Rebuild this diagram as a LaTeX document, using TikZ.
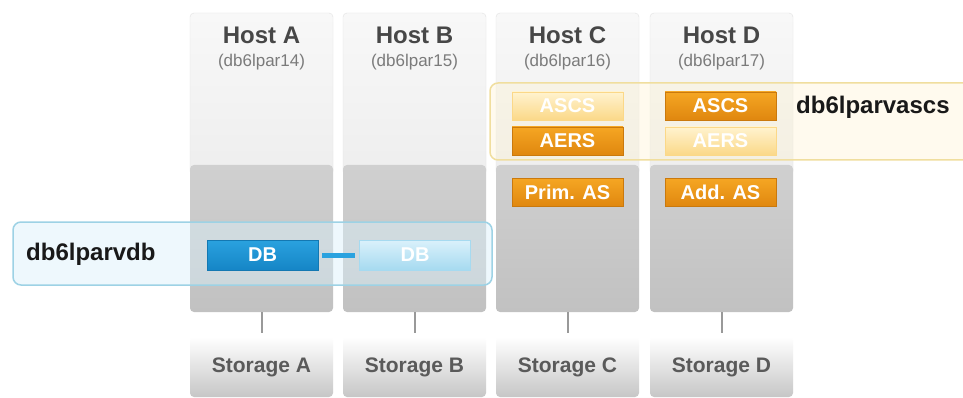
\documentclass[tikz,border=0pt]{standalone}
\usepackage{fontspec}
\setmainfont{Liberation Sans}
\usetikzlibrary{positioning}
\definecolor{paneltop}{HTML}{F8F8F8}
\definecolor{panelbot}{HTML}{EEEEEE}
\definecolor{panelline}{HTML}{E3E3E3}
\definecolor{graytop}{HTML}{D0D0D0}
\definecolor{graybot}{HTML}{C1C1C1}
\definecolor{storbot}{HTML}{C6C6C6}
\definecolor{sapor}{HTML}{F5A623}
\definecolor{sapordk}{HTML}{E0870F}
\definecolor{fadeor}{HTML}{FFF3CF}
\definecolor{fadeordk}{HTML}{FBD888}
\definecolor{dbblue}{HTML}{2AA2DF}
\definecolor{dbbluedk}{HTML}{1585C6}
\definecolor{dbfade}{HTML}{DAF1FB}
\definecolor{dbfadedk}{HTML}{A6DAF0}
\definecolor{vdbline}{HTML}{9DD2E5}
\definecolor{ascsline}{HTML}{F0DE9E}
\definecolor{hosttext}{HTML}{474747}
\definecolor{subtext}{HTML}{7B7B7B}
\tikzstyle{hosttop} = [draw=panelline, rounded corners=4pt, top color=paneltop, bottom color=panelbot, minimum width=143pt, minimum height=162pt, inner sep=0pt]
\tikzstyle{hostbot} = [rounded corners=4pt, top color=graytop, bottom color=graybot, minimum width=143pt, minimum height=147pt, inner sep=0pt]
\tikzstyle{storagebox} = [rounded corners=4pt, top color=white, bottom color=storbot, minimum width=143pt, minimum height=60pt, inner sep=0pt, text=hosttext!90, font=\fontsize{21}{24}\selectfont\bfseries]
\tikzstyle{title} = [text=hosttext, font=\fontsize{24}{28}\selectfont\bfseries]
\tikzstyle{subtitle} = [text=subtext, font=\fontsize{17}{20}\selectfont]
\tikzstyle{orbox} = [draw=sapordk!90!black, top color=sapor, bottom color=sapordk, text=white, minimum width=111pt, minimum height=28pt, inner sep=0pt, font=\fontsize{20}{24}\selectfont\bfseries]
\tikzstyle{orfaded} = [orbox, draw=fadeordk, top color=fadeor, bottom color=fadeordk]
\tikzstyle{dbbox} = [draw=dbbluedk!90!black, top color=dbblue, bottom color=dbbluedk, text=white, minimum width=111pt, minimum height=30pt, inner sep=0pt, font=\fontsize{20}{24}\selectfont\bfseries]
\tikzstyle{dbfaded} = [dbbox, draw=dbfadedk, top color=dbfade, bottom color=dbfadedk]
\tikzstyle{grouplabel} = [text=black!90, font=\fontsize{24}{28}\selectfont\bfseries, inner sep=0pt]

\begin{document}
\begin{tikzpicture}[x=1pt,y=-1pt]
\useasboundingbox[fill=white] (0,0) rectangle (963,398);
% host panels
\node[hosttop] (pA) at (261.5,94) {};
\node[hosttop] (pB) at (414.5,94) {};
\node[hosttop] (pC) at (567.5,94) {};
\node[hosttop] (pD) at (721.5,94) {};
\node[hostbot] (gA) at (261.5,238.5) {};
\node[hostbot] (gB) at (414.5,238.5) {};
\node[hostbot] (gC) at (567.5,238.5) {};
\node[hostbot] (gD) at (721.5,238.5) {};
\node[title] (tA) at (261.5,35) {Host A};
\node[title] (tB) at (414.5,35) {Host B};
\node[title] (tC) at (567.5,35) {Host C};
\node[title] (tD) at (721.5,35) {Host D};
\node[subtitle] (nA) at (261.5,62) {(db6lpar14)};
\node[subtitle] (nB) at (414.5,62) {(db6lpar15)};
\node[subtitle] (nC) at (567.5,62) {(db6lpar16)};
\node[subtitle] (nD) at (721.5,62) {(db6lpar17)};
% storage
\node[storagebox] (sA) at (261.5,367) {Storage A};
\node[storagebox] (sB) at (414.5,367) {Storage B};
\node[storagebox] (sC) at (567.5,367) {Storage C};
\node[storagebox] (sD) at (721.5,367) {Storage D};
\draw[line width=2pt, black!40] (gA.south) -- ([yshift=4pt]sA.north);
\draw[line width=2pt, black!40] (gB.south) -- ([yshift=4pt]sB.north);
\draw[line width=2pt, black!40] (gC.south) -- ([yshift=4pt]sC.north);
\draw[line width=2pt, black!40] (gD.south) -- ([yshift=4pt]sD.north);
% virtual hosts
\node[draw=vdbline, line width=1.5pt, rounded corners=8pt, fill=dbfade, fill opacity=0.45, minimum width=479pt, minimum height=63pt] (vdb) at (252.5,253.5) {};
\node[grouplabel, anchor=west] (vdblabel) at (26,254) {db6lparvdb};
\begin{scope}
\clip (0,0) rectangle (963,398);
\node[draw=ascsline, line width=1.5pt, rounded corners=8pt, fill=fadeor, fill opacity=0.35, minimum width=490pt, minimum height=77pt] (vascs) at (735,121.5) {};
\end{scope}
\node[grouplabel, anchor=west] (ascslabel) at (796,107) {db6lparvascs};
% instances
\node[orfaded] (ascsC) at (567.5,106) {ASCS};
\node[orbox] (aersC) at (567.5,141) {AERS};
\node[orbox] (ascsD) at (720.5,106) {ASCS};
\node[orfaded] (aersD) at (720.5,141) {AERS};
\node[orbox] (primas) at (567.5,192.5) {Prim. AS};
\node[orbox] (addas) at (720.5,192.5) {Add. AS};
\node[dbbox] (dbA) at (262.5,255) {DB};
\node[dbfaded] (dbB) at (415,255) {DB};
\draw[line width=5pt, dbblue, shorten <=4pt, shorten >=4pt] (dbA.east) -- (dbB.west);
\end{tikzpicture}
\end{document}
